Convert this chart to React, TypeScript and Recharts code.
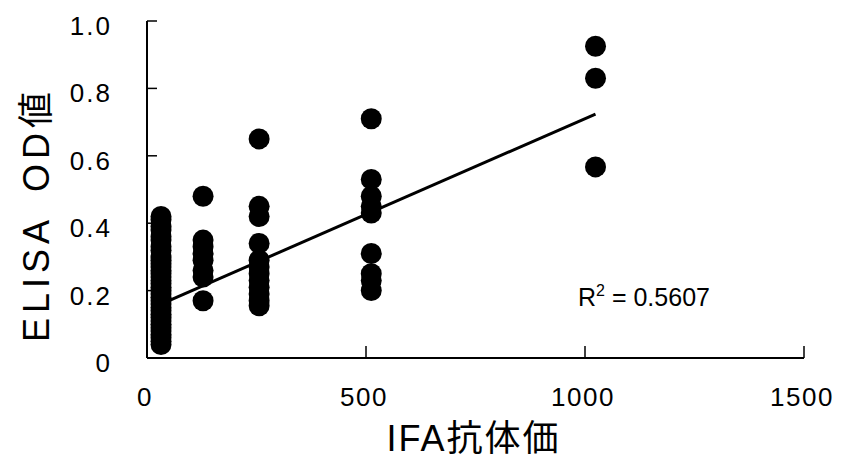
import React from 'react';
import { ScatterChart, Scatter, XAxis, YAxis, Label } from 'recharts';

// IFA antibody titers (x categories)
const titers = [32, 128, 256, 512, 1024];

// ELISA OD values read per titer group
const od32 = [
  0.42, 0.41, 0.39, 0.38, 0.36, 0.35, 0.33, 0.32, 0.30, 0.29, 0.28, 0.27,
  0.26, 0.25, 0.24, 0.23, 0.22, 0.21, 0.20, 0.19, 0.18, 0.17, 0.16, 0.15,
  0.14, 0.13, 0.12, 0.11, 0.10, 0.09, 0.08, 0.07, 0.06, 0.05, 0.04,
];
const od128 = [0.48, 0.35, 0.33, 0.31, 0.29, 0.26, 0.24, 0.17];
const od256 = [0.65, 0.45, 0.42, 0.34, 0.29, 0.27, 0.25, 0.23, 0.21, 0.19, 0.17, 0.155];
const od512 = [0.71, 0.53, 0.48, 0.45, 0.43, 0.31, 0.25, 0.23, 0.2];
const od1024 = [0.925, 0.83, 0.567];

// Linear trendline end points
const trendX = [32, 1024];
const trendY = [0.16, 0.724];

const xTicks = [0, 500, 1000, 1500];
const yTicks = [0, 0.2, 0.4, 0.6, 0.8, 1.0];

const xTitle = 'IFA抗体価';
const yTitle = 'ELISA\u2002OD値';
const r2Value = '0.5607';

const groups = [od32, od128, od256, od512, od1024];
const points = titers.flatMap((t, i) => groups[i].map((v) => ({ x: t, y: v })));
const trend = trendX.map((x, i) => ({ x, y: trendY[i] }));

const FONT = '"Liberation Sans", Arial, "Noto Sans CJK JP", sans-serif';

const Dot = (p: any) => <circle cx={p.cx} cy={p.cy} r={10.5} fill="#000" />;
const NoDot = () => <g />;

const YTick = (p: any) => {
  const v = p.payload.value;
  const s = v === 0 ? '0' : v.toFixed(1);
  return (
    <text x={p.x} y={p.y + 5} textAnchor="end" dominantBaseline="central" fontSize={26}
      fontFamily={FONT} fill="#000" letterSpacing={2}>
      {s}
    </text>
  );
};

const XTick = (p: any) => {
  return (
    <text x={p.x - 2} y={p.y} textAnchor="middle" dominantBaseline="central" fontSize={26}
      fontFamily={FONT} fill="#000" letterSpacing={1.5}>
      {String(p.payload.value)}
    </text>
  );
};

const XTitle = (props: any) => {
  const vb = props.viewBox || { x: 147, y: 358, width: 657, height: 115 };
  const cx = vb.x + vb.width / 2 - 2;
  const cy = vb.y + 80;
  return (
    <text x={cx} y={cy} textAnchor="middle" dominantBaseline="central" fontSize={36}
      fontFamily={FONT} fill="#000" letterSpacing={2}>
      {xTitle}
    </text>
  );
};

const YTitle = (props: any) => {
  const vb = props.viewBox || { x: 0, y: 21, width: 147, height: 337 };
  const cx = vb.x + 36;
  const cy = vb.y + vb.height / 2 + 25;
  return (
    <text x={cx} y={cy} transform={`rotate(-90 ${cx} ${cy})`} textAnchor="middle"
      dominantBaseline="central" fontSize={36} fontFamily={FONT} fill="#000" letterSpacing={5}>
      {yTitle}
    </text>
  );
};

export default function App() {
  return (
    <div style={{ position: 'absolute', left: 0, top: 0, width: 841, height: 473, background: '#fff' }}>
      <ScatterChart width={841} height={473} margin={{ top: 21, right: 37, bottom: 0, left: 0 }}>
        <XAxis
          type="number"
          dataKey="x"
          domain={[0, 1500]}
          ticks={xTicks}
          height={115}
          axisLine={{ stroke: '#000', strokeWidth: 2 }}
          tickLine={{ stroke: '#000', strokeWidth: 1.5 }}
          tickSize={-12}
          tickMargin={51}
          tick={<XTick />}
          interval={0}
        >
          <Label content={<XTitle />} />
        </XAxis>
        <YAxis
          type="number"
          dataKey="y"
          domain={[0, 1]}
          ticks={yTicks}
          width={147}
          axisLine={{ stroke: '#000', strokeWidth: 2 }}
          tickLine={{ stroke: '#000', strokeWidth: 1.5 }}
          tickSize={-10}
          tickMargin={45}
          tick={<YTick />}
          interval={0}
        >
          <Label content={<YTitle />} />
        </YAxis>
        <Scatter data={points} fill="#000" shape={<Dot />} isAnimationActive={false} />
        <Scatter
          data={trend}
          line={{ stroke: '#000', strokeWidth: 3 }}
          shape={<NoDot />}
          isAnimationActive={false}
        />
      </ScatterChart>
      <div
        style={{
          position: 'absolute',
          left: 578,
          top: 282,
          fontFamily: FONT,
          fontSize: 25,
          lineHeight: '30px',
          color: '#000',
          whiteSpace: 'pre',
        }}
      >
        R<span style={{ fontSize: 16, position: 'relative', top: -10 }}>2</span> = {r2Value}
      </div>
    </div>
  );
}
